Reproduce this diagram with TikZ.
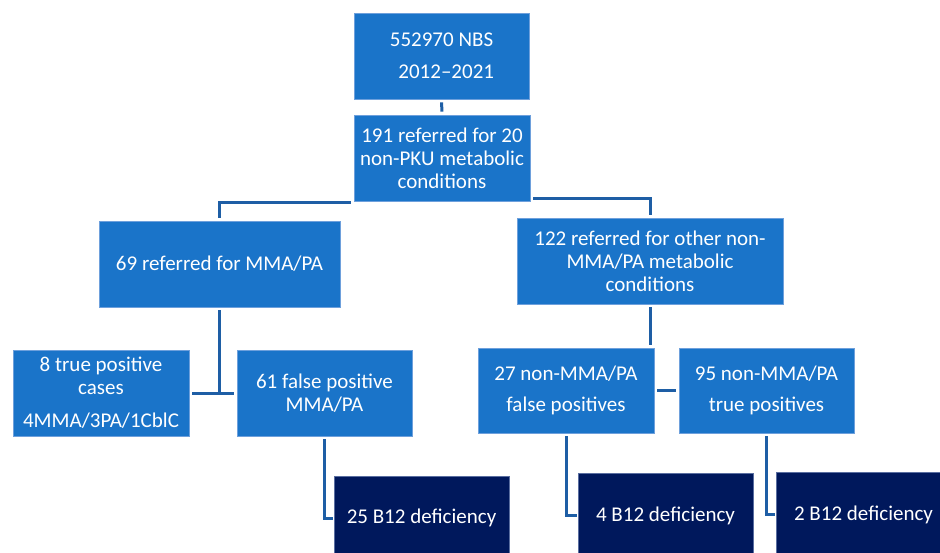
\documentclass[tikz,border=0pt]{standalone}
\usepackage{fontspec}
\setmainfont{Carlito}
\definecolor{boxblue}{RGB}{26,116,201}
\definecolor{boxedge}{RGB}{110,160,220}
\definecolor{navy}{RGB}{0,24,92}
\definecolor{navyedge}{RGB}{90,110,160}
\definecolor{linkblue}{RGB}{30,94,165}
\begin{document}
\begin{tikzpicture}[x=1pt,y=-1pt,
  box/.style={draw=boxedge, line width=0.8pt, fill=boxblue, text=white, align=center,
    inner sep=0pt, font=\fontsize{21}{23}\selectfont},
  dbox/.style={box, fill=navy, draw=navyedge},
  link/.style={draw=linkblue, line width=3pt, shorten <=3pt, shorten >=3pt}]
\clip (0,0) rectangle (940,553);
\fill[white] (0,0) rectangle (940,553);
% boxes
\node[box, minimum width=175pt, minimum height=86pt] (top) at (441.5,56) {552970 NBS\\[9pt]\hspace{0.45em}2012–2021};
\node[box, minimum width=176pt, minimum height=86pt] (mid) at (442,158) {191 referred for 20\\non-PKU metabolic\\conditions};
\node[box, minimum width=241pt, minimum height=86pt] (b69) at (219.5,264) {69 referred for MMA/PA};
\node[box, minimum width=266pt, minimum height=86pt] (b122) at (650,261) {122 referred for other non-\\MMA/PA metabolic\\conditions};
\node[box, minimum width=176pt, minimum height=86pt] (b8) at (101,393) {8 true positive\\cases\\[10pt]4MMA/3PA/1CblC};
\node[box, minimum width=175pt, minimum height=86pt] (b61) at (324.5,393) {61 false positive\\MMA/PA};
\node[box, minimum width=176pt, minimum height=85pt] (b27) at (566,390.5) {27 non-MMA/PA\\[8pt]false positives};
\node[box, minimum width=175pt, minimum height=85pt] (b95) at (766.5,390.5) {95 non-MMA/PA\\[8pt]true positives};
\node[dbox, minimum width=175pt, minimum height=84pt] (b25) at (421.5,518) {25 B12 deficiency};
\node[dbox, minimum width=175pt, minimum height=85pt] (b4) at (665.5,515.5) {4 B12 deficiency};
\node[dbox, minimum width=175pt, minimum height=85pt] (b2) at (863.5,514.5) {2 B12 deficiency};
% connectors
\draw[link] (top.south) -- (mid.north);
\draw[link, shorten <=0pt] ([xshift=-3pt,yshift=-1pt]mid.south west) -| (b69.north);
\draw[link, shorten <=0pt] ([xshift=3pt,yshift=3pt]mid.south east) -| (b122.north);
\draw[link, shorten >=0pt] (b69.south) -- (b69.south |- b8.east);
\draw[link] (b8.east) -- (b61.west);
\draw[link] (b122.south) -- (b122.south |- b27.north);
\draw[link] (b27.east) -- (b95.west);
\draw[link, shorten >=1pt] (b61.south) |- (b25.west);
\draw[link, shorten >=1pt] (b27.south) |- (b4.west);
\draw[link, shorten >=1pt] (b95.south) |- (b2.west);
\end{tikzpicture}
\end{document}
